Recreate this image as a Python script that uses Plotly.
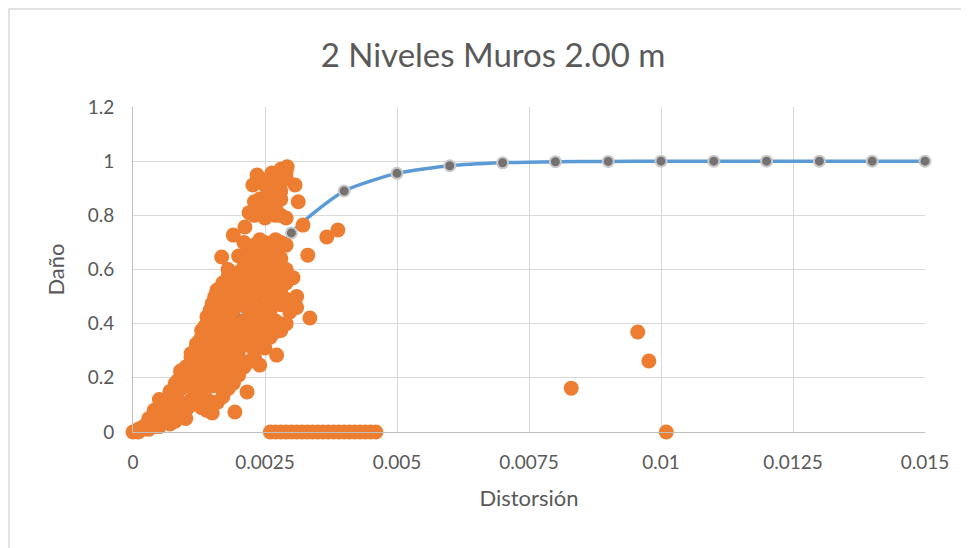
import plotly.graph_objects as go

# Fragility curve (blue line with grey markers)
curve_x = [0.0, 0.001, 0.002, 0.003, 0.004, 0.005, 0.006, 0.007, 0.008,
           0.009, 0.010, 0.011, 0.012, 0.013, 0.014, 0.015]
curve_y = [0.0, 0.05, 0.42, 0.735, 0.89, 0.955, 0.983, 0.994, 0.998,
           0.999, 1.0, 1.0, 1.0, 1.0, 1.0, 1.0]

# Observed damage points (orange)
obs_x = [
    0.0, 0.0001, 0.0002, 0.0003, 0.0004,
    0.0002, 0.0004, 0.0005, 0.0006, 0.0007,
    0.0001, 0.0003, 0.0006, 0.0008,
    0.0003, 0.0005, 0.0007, 0.0008, 0.0009, 0.0010,
    0.0004, 0.0006, 0.0008, 0.0010, 0.0011, 0.0013, 0.0014, 0.0015, 0.00193,
    0.0006, 0.0009, 0.0012, 0.0015,
    0.0005, 0.0007, 0.0009, 0.0011, 0.0012, 0.0014, 0.0016, 0.0017,
    0.0007, 0.0009, 0.0010, 0.0012, 0.0013, 0.0015, 0.0017, 0.0018, 0.00216,
    0.0008, 0.0011, 0.0014, 0.0016, 0.0019,
    0.00085, 0.0010, 0.0011, 0.0013, 0.0014, 0.0015, 0.0016, 0.0018, 0.0019, 0.0020,
    0.0009, 0.0012, 0.0016, 0.0017, 0.0020,
    0.0010, 0.0011, 0.0012, 0.0014, 0.0015, 0.0017, 0.0018, 0.0019, 0.0021, 0.0022, 0.0024,
    0.0011, 0.0013, 0.0016, 0.0018, 0.0020, 0.0023,
    0.0011, 0.0012, 0.0013, 0.0015, 0.0016, 0.0017, 0.0019, 0.0020, 0.0022, 0.0023, 0.0025, 0.00272,
    0.0012, 0.0014, 0.0018, 0.0021, 0.0024,
    0.00127, 0.0014, 0.0015, 0.0016, 0.0018, 0.0019, 0.0020, 0.0022, 0.0023, 0.0024, 0.0026, 0.0027,
    0.0013, 0.0017, 0.0021, 0.0025, 0.0028,
    0.00136, 0.0015, 0.0016, 0.0017, 0.0019, 0.0020, 0.0021, 0.0023, 0.0024, 0.0025, 0.0027, 0.0028, 0.0029,
    0.0014, 0.0018, 0.0022, 0.0026,
    0.00146, 0.0016, 0.0017, 0.0019, 0.0021, 0.0022, 0.0024, 0.0025, 0.0026, 0.0028, 0.00297, 0.0031, 0.00335,
    0.0015, 0.0018, 0.0023, 0.0027, 0.0030,
    0.00155, 0.00159, 0.0017, 0.0018, 0.0020, 0.0022, 0.0023, 0.0024, 0.0026, 0.0027, 0.0029, 0.0031,
    0.0019, 0.0021, 0.0025, 0.0028,
    0.0017, 0.0019, 0.0020, 0.0021, 0.0023, 0.0025, 0.0026, 0.0027, 0.0029, 0.00303,
    0.0018, 0.0022, 0.0024, 0.0028,
    0.0018, 0.0020, 0.0021, 0.0023, 0.0024, 0.0025, 0.0026, 0.0028, 0.0029,
    0.0022, 0.0024, 0.0027,
    0.00168, 0.0020, 0.0022, 0.0023, 0.0025, 0.0026, 0.0027, 0.0028, 0.00331,
    0.0024, 0.0026,
    0.0021, 0.0023, 0.0024, 0.0025, 0.0026, 0.0027, 0.0028, 0.0029, 0.00367, 0.00388,
    0.0019, 0.00212, 0.00322,
    0.0022, 0.0023, 0.0024, 0.0025, 0.0026, 0.0027, 0.0028, 0.0029,
    0.0025, 0.0027,
    0.0023, 0.0024, 0.0025, 0.0026, 0.0027, 0.0028, 0.00313,
    0.0026, 0.0028,
    0.00227, 0.00235, 0.0025, 0.00263, 0.0027, 0.0028, 0.00307,
    0.0026, 0.0029,
    0.0029, 0.00292, 0.0028,
    0.0026, 0.0027, 0.0028, 0.0029, 0.0030, 0.0031, 0.0032, 0.0033, 0.0034, 0.0035, 0.0036,
    0.0037, 0.0038, 0.0039, 0.0040, 0.0041, 0.0042, 0.0043, 0.0044, 0.0045, 0.0046,
    0.0083, 0.00956, 0.00977, 0.0101,
]
obs_y = [
    0.0, 0.0, 0.01, 0.01, 0.02,
    0.02, 0.03, 0.02, 0.04, 0.03,
    0.01, 0.04, 0.05, 0.04,
    0.05, 0.06, 0.05, 0.07, 0.06, 0.05,
    0.08, 0.09, 0.10, 0.08, 0.10, 0.09, 0.08, 0.07, 0.074,
    0.11, 0.11, 0.11, 0.11,
    0.12, 0.13, 0.11, 0.12, 0.14, 0.12, 0.11, 0.13,
    0.15, 0.16, 0.17, 0.15, 0.16, 0.17, 0.15, 0.16, 0.148,
    0.18, 0.18, 0.18, 0.18, 0.18,
    0.19, 0.20, 0.21, 0.20, 0.22, 0.19, 0.21, 0.20, 0.22, 0.21,
    0.225, 0.225, 0.225, 0.225, 0.225,
    0.24, 0.25, 0.26, 0.25, 0.24, 0.26, 0.25, 0.27, 0.24, 0.26, 0.247,
    0.275, 0.275, 0.275, 0.275, 0.275, 0.275,
    0.29, 0.30, 0.31, 0.30, 0.32, 0.29, 0.31, 0.30, 0.32, 0.30, 0.31, 0.284,
    0.325, 0.325, 0.325, 0.325, 0.325,
    0.34, 0.35, 0.36, 0.35, 0.34, 0.36, 0.35, 0.37, 0.34, 0.36, 0.35, 0.37,
    0.375, 0.375, 0.375, 0.375, 0.375,
    0.39, 0.40, 0.41, 0.42, 0.40, 0.39, 0.41, 0.40, 0.42, 0.39, 0.41, 0.40, 0.40,
    0.425, 0.425, 0.425, 0.425,
    0.45, 0.46, 0.44, 0.45, 0.47, 0.45, 0.44, 0.46, 0.45, 0.47, 0.443, 0.46, 0.421,
    0.475, 0.475, 0.475, 0.475, 0.475,
    0.50, 0.524, 0.51, 0.49, 0.50, 0.52, 0.49, 0.51, 0.50, 0.52, 0.49, 0.50,
    0.525, 0.525, 0.525, 0.525,
    0.55, 0.56, 0.54, 0.57, 0.55, 0.56, 0.54, 0.57, 0.55, 0.57,
    0.575, 0.575, 0.575, 0.575,
    0.60, 0.59, 0.61, 0.60, 0.62, 0.60, 0.59, 0.61, 0.60,
    0.625, 0.625, 0.625,
    0.646, 0.65, 0.66, 0.64, 0.66, 0.65, 0.67, 0.64, 0.653,
    0.675, 0.675,
    0.70, 0.69, 0.71, 0.70, 0.69, 0.71, 0.70, 0.69, 0.72, 0.746,
    0.727, 0.757, 0.764,
    0.81, 0.80, 0.82, 0.79, 0.81, 0.80, 0.80, 0.79,
    0.83, 0.83,
    0.85, 0.86, 0.84, 0.87, 0.85, 0.86, 0.85,
    0.89, 0.89,
    0.912, 0.949, 0.91, 0.956, 0.93, 0.92, 0.912,
    0.94, 0.94,
    0.96, 0.979, 0.97,
    0.0, 0.0, 0.0, 0.0, 0.0, 0.0, 0.0, 0.0, 0.0, 0.0, 0.0,
    0.0, 0.0, 0.0, 0.0, 0.0, 0.0, 0.0, 0.0, 0.0, 0.0,
    0.162, 0.369, 0.262, 0.0,
]

x_ticks = [0, 0.0025, 0.005, 0.0075, 0.01, 0.0125, 0.015]
x_labels = ["0", "0.0025", "0.005", "0.0075", "0.01", "0.0125", "0.015"]
y_ticks = [0, 0.2, 0.4, 0.6, 0.8, 1.0, 1.2]
y_labels = ["0", "0.2", "0.4", "0.6", "0.8", "1", "1.2"]

FONT = "Lato, 'Open Sans', sans-serif"
TXT = "#595959"
GRID = "#d9d9d9"
OFF = 8  # page body margin

# plot area in screen pixels: x 133..925, y 107..432
L, R, T, B = 133 - OFF, 969 - (925 - OFF), 107 - OFF, 548 - (432 - OFF)

fig = go.Figure()
fig.add_trace(go.Scatter(
    x=curve_x, y=curve_y, mode="lines+markers",
    line=dict(color="#5B9BD5", width=3.5, shape="spline", smoothing=0.6),
    marker=dict(size=11, color="#767171", line=dict(color="#c9c9c9", width=2)),
    showlegend=False, cliponaxis=False,
))
fig.add_trace(go.Scatter(
    x=obs_x, y=obs_y, mode="markers",
    marker=dict(size=15, color="#ED7D31", line=dict(width=0)),
    showlegend=False, cliponaxis=False,
))

fig.update_layout(
    width=969, height=548,
    margin=dict(l=L, r=R, t=T, b=B),
    paper_bgcolor="white", plot_bgcolor="white",
    font=dict(family=FONT, color=TXT),
    title=dict(text="2 Niveles Muros 2.00 m", x=(493 - OFF) / 969, xanchor="center",
               y=1 - (55 - OFF) / 548, yanchor="middle", xref="container", yref="container",
               font=dict(family=FONT, size=33, color=TXT)),
    xaxis=dict(range=[0, 0.015], tickvals=x_ticks, ticktext=x_labels,
               showgrid=True, gridcolor=GRID, gridwidth=1,
               zeroline=False, showline=True, linecolor="#bfbfbf", linewidth=1,
               ticks="", tickfont=dict(size=19, color=TXT), ticklabelstandoff=13,
               title=dict(text="Distorsión", font=dict(size=22, color=TXT), standoff=18),
               automargin=False),
    yaxis=dict(range=[0, 1.2], tickvals=y_ticks, ticktext=y_labels,
               showgrid=True, gridcolor=GRID, gridwidth=1,
               zeroline=False, showline=True, linecolor="#bfbfbf", linewidth=1,
               ticks="", tickfont=dict(size=19, color=TXT), ticklabelstandoff=14,
               title=dict(text="Daño", font=dict(size=22, color=TXT), standoff=16),
               automargin=False),
)

# outer chart border (screen pixels converted to plot-area paper coords)
fig.add_shape(type="rect", xref="paper", yref="paper",
              x0=(9 - 133) / 792, x1=(985 - 133) / 792,
              y0=(432 - 566) / 325, y1=(432 - 9) / 325,
              line=dict(color=GRID, width=1.5), fillcolor="rgba(0,0,0,0)", layer="below")

fig.write_html("out.html")
